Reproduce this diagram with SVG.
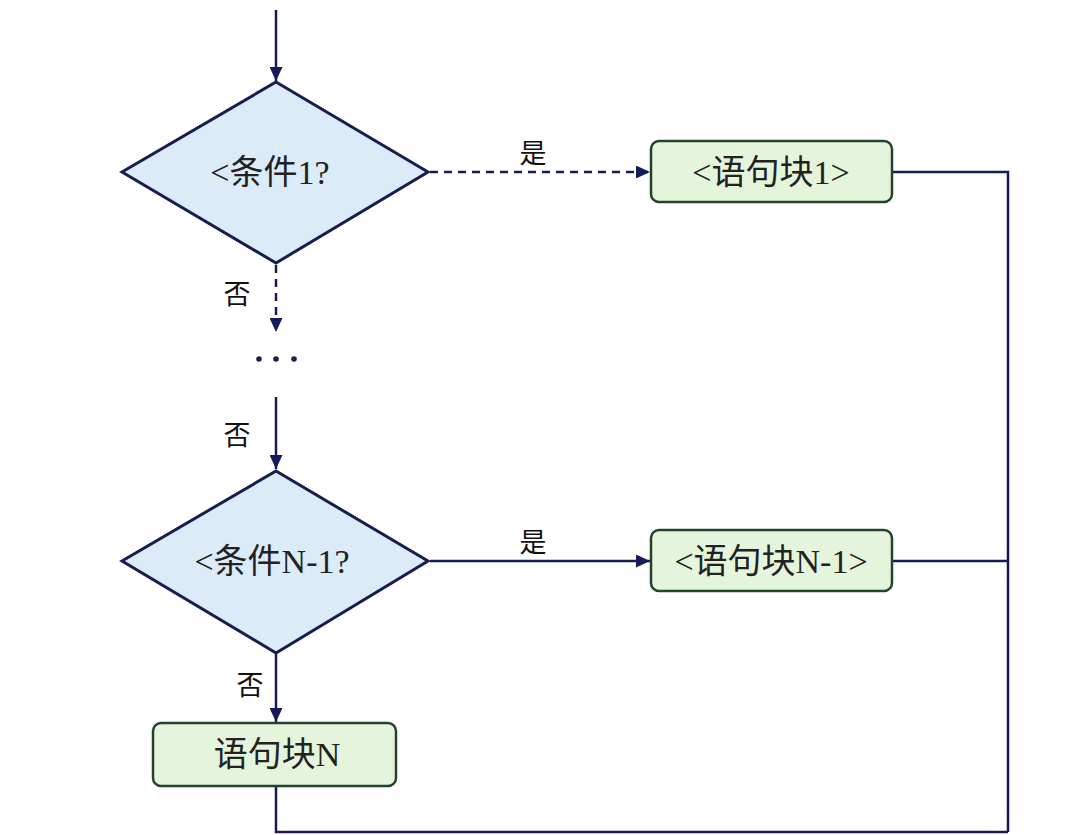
<svg xmlns="http://www.w3.org/2000/svg" width="1080" height="835" viewBox="0 0 1080 835">
<defs>
<marker id="ah" viewBox="0 0 14 13" refX="14" refY="6.5" markerWidth="14" markerHeight="13" markerUnits="userSpaceOnUse" orient="auto">
<path d="M0,0 L14,6.5 L0,13 Z" fill="#161a5a"/>
</marker>
<style>
.dia{fill:#dcebf8;stroke:#181d4e;stroke-width:3;stroke-linejoin:miter}
.box{fill:#e5f5dc;stroke:#24432e;stroke-width:2.5}
.ln{fill:none;stroke:#161a5a;stroke-width:2.5}
.dash{stroke-dasharray:8 6}
.t{font-family:"Liberation Serif","Noto Sans CJK SC",serif;font-size:34px;fill:#222;text-anchor:middle;dominant-baseline:central}
.lb{font-family:"Noto Sans CJK SC",sans-serif;font-size:27px;fill:#111;text-anchor:middle;dominant-baseline:central}
</style>
</defs>
<rect width="1080" height="835" fill="#ffffff"/>
<g id="connectors">
<line class="ln" x1="276" y1="10" x2="276" y2="81" marker-end="url(#ah)"/>
<line class="ln dash" x1="430" y1="172" x2="650" y2="172" marker-end="url(#ah)"/>
<line class="ln dash" x1="276" y1="265" x2="276" y2="332" marker-end="url(#ah)"/>
<line class="ln" x1="276" y1="397" x2="276" y2="469" marker-end="url(#ah)"/>
<line class="ln" x1="430" y1="561" x2="650" y2="561" marker-end="url(#ah)"/>
<line class="ln" x1="276" y1="654" x2="276" y2="722" marker-end="url(#ah)"/>
<polyline class="ln" points="892,172 1008,172 1008,832"/>
<line class="ln" x1="892" y1="561" x2="1008" y2="561"/>
<polyline class="ln" points="276,786 276,832 1008,832"/>
<text class="lb" x="533" y="151">是</text>
<text class="lb" x="533" y="540">是</text>
<text class="lb" x="237" y="292">否</text>
<text class="lb" x="237" y="433">否</text>
<text class="lb" x="250" y="683">否</text>
</g>
<g id="cond1">
<polygon class="dia" points="276,82 428,172 276,263 122,172"/>
<text class="t" x="270" y="172">&lt;条件1?</text>
</g>
<g id="ellipsis">
<circle cx="259" cy="359" r="2.8" fill="#1c2050"/>
<circle cx="276" cy="359" r="2.8" fill="#1c2050"/>
<circle cx="294" cy="359" r="2.8" fill="#1c2050"/>
</g>
<g id="condN1">
<polygon class="dia" points="276,471 428,561 276,653 122,561"/>
<text class="t" x="272" y="561">&lt;条件N-1?</text>
</g>
<g id="block1">
<rect class="box" x="651" y="141" width="241" height="61" rx="8"/>
<text class="t" x="771" y="172">&lt;语句块1&gt;</text>
</g>
<g id="blockN1">
<rect class="box" x="651" y="530" width="241" height="61" rx="8"/>
<text class="t" x="771" y="561">&lt;语句块N-1&gt;</text>
</g>
<g id="blockN">
<rect class="box" x="153" y="723" width="243" height="63" rx="8"/>
<text class="t" x="277" y="754">语句块N</text>
</g>
</svg>
